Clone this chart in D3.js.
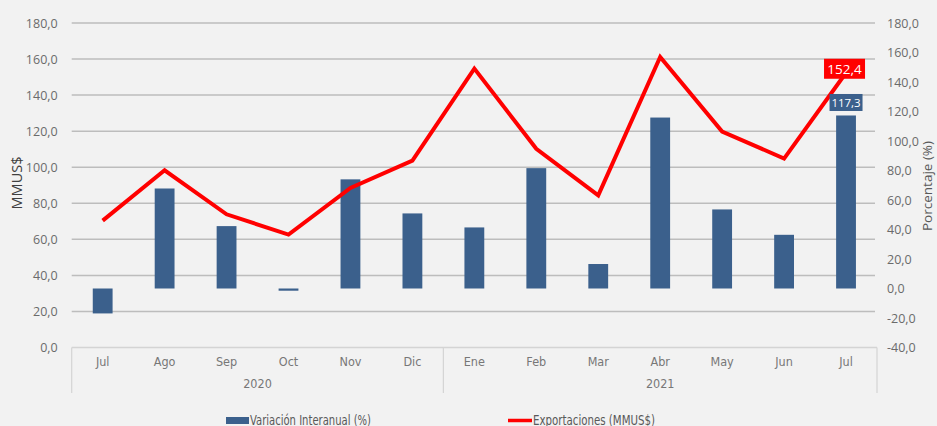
<!DOCTYPE html>
<html><head><meta charset="utf-8">
<script src="https://cdn.jsdelivr.net/npm/d3@7"></script>
<style>
html,body{margin:0;padding:0;background:#f2f2f2;}
svg{display:block;}
</style></head>
<body>
<svg id="chart" width="937" height="426"></svg>
<script>
const months = ["Jul","Ago","Sep","Oct","Nov","Dic","Ene","Feb","Mar","Abr","May","Jun","Jul"];
const years = [{label:"2020", from:0, to:5},{label:"2021", from:6, to:12}];
const variacion = [-16.9, 67.8, 42.3, -1.5, 74.0, 50.9, 41.4, 81.6, 16.6, 115.9, 53.6, 36.4, 117.3];
const exportaciones = [70.4, 98.3, 73.9, 62.6, 88.5, 103.7, 154.7, 110.2, 84.4, 161.2, 119.8, 104.8, 152.4];
const leftTicks = [0,20,40,60,80,100,120,140,160,180];
const rightTicks = [-40,-20,0,20,40,60,80,100,120,140,160,180];

const svg = d3.select("#chart");
const L = 71.7, R = 877, T = 23, B = 347.5;
const fmt = v => d3.format(".1f")(v).replace(".", ",").replace("−","-");

const x = d3.scaleBand().domain(d3.range(months.length)).range([L, R]).paddingInner(0.68).paddingOuter(0.34);
const xc = d3.scaleBand().domain(d3.range(months.length)).range([L, R]);
const yL = d3.scaleLinear().domain([0,180]).range([B, T]);
const yR = d3.scaleLinear().domain([-40,180]).range([B, T]);

const tickFont = "'Open Sans', 'Noto Sans', sans-serif";
const condFont = "'DejaVu Sans Condensed', 'Liberation Sans Narrow', sans-serif";

// gridlines
svg.append("g").selectAll("line").data(leftTicks.filter(d=>d>0)).join("line")
  .attr("x1", L).attr("x2", R-2).attr("y1", d=>yL(d)).attr("y2", d=>yL(d))
  .attr("stroke", "#bdbdbd").attr("stroke-width", 1.5);

// left axis
const axL = d3.axisLeft(yL).tickValues(leftTicks).tickFormat(fmt).tickSize(0).tickPadding(14);
const gL = svg.append("g").attr("transform", `translate(${L},0)`).call(axL);
gL.select(".domain").remove();
gL.selectAll("text").attr("font-family", tickFont).attr("font-size", 12.5).attr("fill", "#6b6b6b");

// right axis
const axR = d3.axisRight(yR).tickValues(rightTicks).tickFormat(fmt).tickSize(0).tickPadding(10);
const gR = svg.append("g").attr("transform", `translate(${R},0)`).call(axR);
gR.select(".domain").remove();
gR.selectAll("text").attr("font-family", tickFont).attr("font-size", 12.5).attr("fill", "#6b6b6b");

// axis titles
svg.append("text").attr("transform", `translate(22,183) rotate(-90)`).attr("text-anchor","middle")
  .attr("font-family", tickFont).attr("font-size", 14.5).attr("fill", "#404040").text("MMUS$");
svg.append("text").attr("transform", `translate(932,186) rotate(-90)`).attr("text-anchor","middle")
  .attr("font-family", tickFont).attr("font-size", 13.5).attr("fill", "#595959").text("Porcentaje (%)");

// category axis box
const boxBottom = 393;
svg.append("line").attr("x1", L).attr("x2", R).attr("y1", B).attr("y2", B).attr("stroke", "#d4d4d4").attr("stroke-width", 1.5);
const dividers = [L, xc(years[1].from), R];
svg.append("g").selectAll("line").data(dividers).join("line")
  .attr("x1", d=>d).attr("x2", d=>d).attr("y1", B).attr("y2", boxBottom)
  .attr("stroke", "#d4d4d4").attr("stroke-width", 1.2);
svg.append("g").selectAll("text").data(months).join("text")
  .attr("x", (d,i)=>xc(i)+xc.bandwidth()/2).attr("y", 366).attr("text-anchor","middle")
  .attr("font-family", condFont).attr("font-size", 12.5).attr("fill", "#777").text(d=>d);
svg.append("g").selectAll("text").data(years).join("text")
  .attr("x", d=>(xc(d.from)+xc(d.to)+xc.bandwidth())/2).attr("y", 388).attr("text-anchor","middle")
  .attr("font-family", condFont).attr("font-size", 12.5).attr("fill", "#777").text(d=>d.label);

// bars
svg.append("g").selectAll("rect").data(variacion).join("rect")
  .attr("x", (d,i)=>x(i)).attr("width", x.bandwidth())
  .attr("y", d=>Math.min(yR(d), yR(0))).attr("height", d=>Math.abs(yR(d)-yR(0)))
  .attr("fill", "#3b608c");

// line
const line = d3.line().x((d,i)=>xc(i)+xc.bandwidth()/2).y(d=>yL(d));
svg.append("path").datum(exportaciones).attr("d", line)
  .attr("fill","none").attr("stroke","#ff0000").attr("stroke-width", 4).attr("stroke-linejoin","miter");

// data labels
const last = months.length-1;
const cx = xc(last)+xc.bandwidth()/2;
function label(text, cxv, cy, w, h, fill, fs){
  svg.append("rect").attr("x", cxv-w/2).attr("y", cy-h/2).attr("width", w).attr("height", h).attr("fill", fill);
  svg.append("text").attr("x", cxv).attr("y", cy+fs*0.36).attr("text-anchor","middle")
    .attr("font-family", tickFont).attr("font-size", fs).attr("fill", "#fff").text(text);
}
label(fmt(exportaciones[last]), cx-1.5, yL(exportaciones[last])-4, 41, 20, "#ff0000", 13.5);
label(fmt(variacion[last]), cx, yR(variacion[last])-13, 33, 17, "#3b608c", 11.5);

// legend
svg.append("rect").attr("x", 226).attr("y", 417).attr("width", 23).attr("height", 7).attr("fill", "#3b608c");
svg.append("text").attr("x", 250).attr("y", 424.5).attr("font-family", condFont).attr("font-size", 14)
  .attr("textLength", 121).attr("lengthAdjust", "spacingAndGlyphs").attr("fill", "#595959").text("Variación Interanual (%)");
svg.append("line").attr("x1", 508).attr("x2", 532).attr("y1", 420.5).attr("y2", 420.5).attr("stroke", "#ff0000").attr("stroke-width", 3.5);
svg.append("text").attr("x", 533).attr("y", 424.5).attr("font-family", condFont).attr("font-size", 14)
  .attr("textLength", 122).attr("lengthAdjust", "spacingAndGlyphs").attr("fill", "#595959").text("Exportaciones (MMUS$)");
</script>
</body></html>
